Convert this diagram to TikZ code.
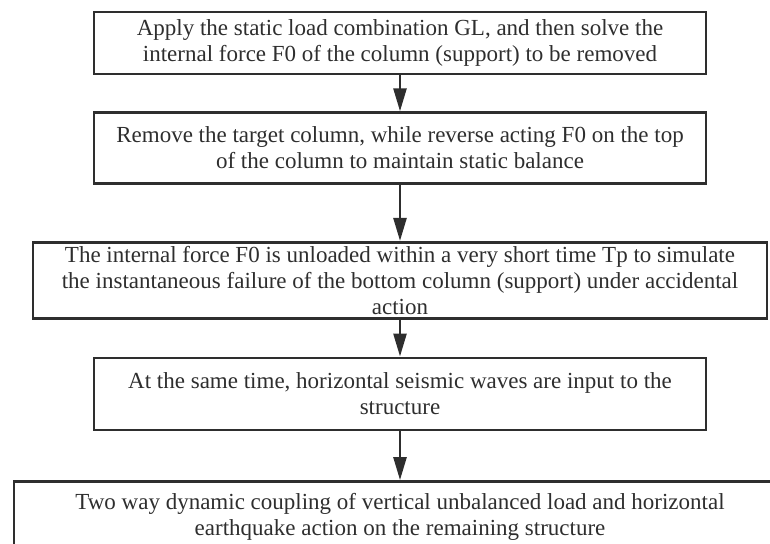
\documentclass[tikz,border=0pt]{standalone}
\usepackage{fontspec}
\setmainfont{Liberation Serif}
\usetikzlibrary{positioning,arrows.meta}
\definecolor{ink}{HTML}{2E2E2E}

\begin{document}
\begin{tikzpicture}[
    x=1pt, y=1pt,
    stepbox/.style={draw=ink, line width=2.6pt, text=ink, align=center, inner sep=0pt,
        minimum width=612pt, font=\fontsize{23}{26}\selectfont},
    widebox/.style={stepbox, minimum width=734pt},
    arr/.style={-{Triangle[length=23pt, width=13pt]}, draw=ink, line width=2.6pt},
]
\useasboundingbox (0,0) rectangle (770,-543);
\clip (0,0) rectangle (770,-543);

% Steps, top to bottom
\node[stepbox, minimum height=62pt] (load) at (400,-43) {Apply the static load combination GL, and then solve the\\internal force F0 of the column (support) to be removed};
\node[stepbox, minimum height=71pt, below=36pt of load] (remove) {Remove the target column, while reverse acting F0 on the top\\of the column to maintain static balance};
\node[widebox, minimum height=76pt, below=56pt of remove] (unload) {The internal force F0 is unloaded within a very short time Tp to simulate\\the instantaneous failure of the bottom column (support) under accidental\\action};
\node[stepbox, minimum height=72pt, below=37pt of unload] (seismic) {At the same time, horizontal seismic waves are input to the\\structure};
\node[widebox, minimum width=772pt, minimum height=70pt, below=49pt of seismic] (coupling) {Two way dynamic coupling of vertical unbalanced load and horizontal\\earthquake action on the remaining structure};

% Arrows
\draw[arr] (load) -- (remove);
\draw[arr] (remove) -- (unload);
\draw[arr] (unload) -- (seismic);
\draw[arr] (seismic) -- (coupling);

\end{tikzpicture}
\end{document}
